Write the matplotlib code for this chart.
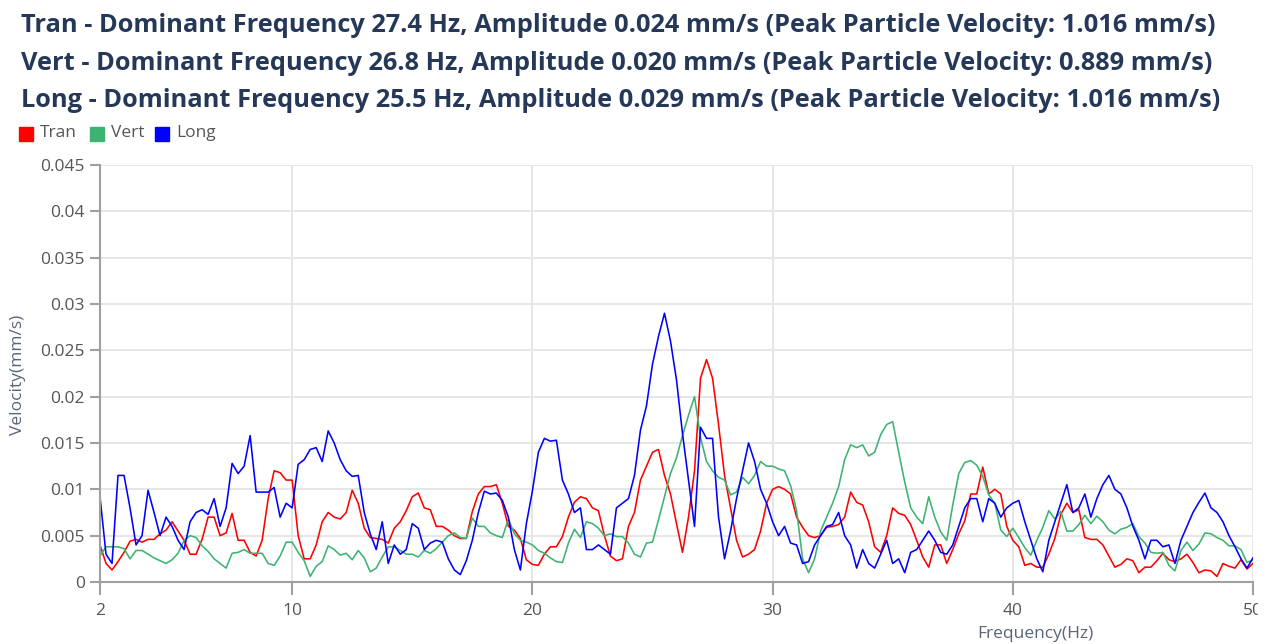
import numpy as np
import matplotlib
matplotlib.use("Agg")
from matplotlib import pyplot as plt
from matplotlib.patches import Rectangle

plt.rcParams['font.family'] = ['Open Sans', 'DejaVu Sans']

W, H = 1275, 644

# spectrum sampled every 0.25 Hz from 2 to 50 Hz, values in um/s (0.001 mm/s)
# one row per Hz: f, f+0.25, f+0.5, f+0.75
tran = [
    4, 2, 1.3, 2.2,
    3.2, 4.4, 4.6, 4.3,
    4.6, 4.6, 5.2, 5.6,
    6.5, 5.5, 4.5, 3,
    3, 4.6, 7, 7,
    5, 5.3, 7.4, 4.5,
    4.5, 3.2, 2.8, 4.5,
    9, 12, 11.8, 11,
    11, 5, 2.5, 2.5,
    4, 6.5, 7.5, 7,
    6.8, 7.5, 9.9, 8.5,
    5.8, 4.8, 4.7, 4.6,
    4.2, 5.8, 6.5, 7.7,
    9.2, 9.6, 8, 7.8,
    6, 6, 5.6, 5,
    4.7, 4.7, 7.6, 9.5,
    10.3, 10.3, 10.5, 8.5,
    6, 5.6, 4.7, 2.4,
    1.9, 1.8, 3, 3.8,
    3.8, 4.9, 7, 8.6,
    9.2, 9, 8, 7.7,
    5, 2.8, 2.3, 2.5,
    6, 7.5, 11, 12.5,
    14, 14.3, 11.5, 9.5,
    6.3, 3.2, 7, 12,
    22, 24, 22, 17,
    11.5, 8, 4.5, 2.7,
    3, 3.5, 5.5, 8.5,
    10, 10.3, 10, 9.5,
    7, 5.9, 5, 4.8,
    5, 5.9, 6, 6.2,
    7, 9.7, 8.6, 8.3,
    6.5, 3.8, 3.2, 5,
    8, 7.4, 7.2, 6.2,
    4.5, 2.7, 1.6, 4,
    4, 2, 3.5, 5.2,
    6.6, 9.5, 9.5, 12.4,
    9.5, 10, 9.5, 6,
    4.5, 3.8, 1.8, 2,
    1.6, 1.6, 3, 4.7,
    7.3, 8.5, 7.5, 7.8,
    4.8, 4.6, 4.6, 4,
    2.8, 1.6, 1.9, 2.5,
    2.3, 1, 1.6, 1.6,
    2.3, 3.1, 2.4, 2.2,
    2.5, 3, 2.1, 1,
    1.3, 1.2, 0.6, 2,
    1.7, 1.5, 2.4, 1.4,
    2,
]

vert = [
    2.8, 3.8, 3.8, 3.8,
    3.6, 2.5, 3.4, 3.4,
    3, 2.6, 2.3, 2,
    2.4, 3.1, 4.5, 5,
    4.8, 3.9, 3.3, 2.5,
    2, 1.5, 3.1, 3.2,
    3.5, 3.1, 3.1, 3.1,
    2, 1.8, 2.8, 4.3,
    4.3, 3.2, 2.3, 0.6,
    1.7, 2.2, 3.9, 3.5,
    2.9, 3.1, 2.4, 3.4,
    2.6, 1.1, 1.5, 2.7,
    3.8, 3.8, 3.4, 3,
    3, 2.7, 3.4, 3.1,
    3.6, 4.3, 5, 5.3,
    4.8, 4.7, 6.9, 6,
    6, 5.3, 5, 4.8,
    6.8, 5.2, 4.5, 4.3,
    4, 3.4, 3.1, 2.6,
    2.2, 2.1, 4.2, 5.7,
    4.8, 6.5, 6.3, 5.8,
    5, 5.2, 4.9, 4.9,
    4.2, 3, 2.7, 4.2,
    4.3, 6.7, 9.2, 11.7,
    13.4, 15.8, 18, 20,
    15.6, 13, 12, 11.3,
    11, 9.4, 9.7, 11.3,
    10.6, 11.5, 13, 12.5,
    12.5, 12.2, 12, 10.4,
    7.7, 2.5, 1, 2.5,
    5.5, 7, 8.5, 10.3,
    13.2, 14.8, 14.5, 14.8,
    13.6, 14, 15.9, 17,
    17.3, 14, 10.8, 8,
    7, 6.3, 9.2, 7,
    5.4, 4.5, 8.3, 11.7,
    12.9, 13.1, 12.6, 11.4,
    9.4, 8.5, 5.6, 4.9,
    5.8, 4.8, 3.7, 2.9,
    4.5, 5.9, 7.7, 6.8,
    7.6, 5.5, 5.5, 6.2,
    7.2, 6.3, 7.1, 6.5,
    5.6, 5.2, 5.7, 5.9,
    6.3, 4.9, 4.2, 3.2,
    3.1, 3.2, 1.8, 1.2,
    3.4, 4.3, 3.4, 4.1,
    5.3, 5.2, 4.8, 4.5,
    3.9, 3.9, 3.5, 2.1,
    2.4,
]

long_ = [
    9.2, 3, 2, 11.5,
    11.5, 8, 4, 5,
    9.9, 7.5, 5, 7,
    6, 4.5, 3.5, 6.5,
    7.5, 7.8, 7.3, 9,
    6, 8, 12.8, 11.7,
    12.5, 15.8, 9.7, 9.7,
    9.7, 10.2, 7, 8.5,
    8, 12.7, 13.2, 14.3,
    14.5, 13, 16.3, 15,
    13.2, 12, 11.4, 11.5,
    7.5, 5.2, 3.5, 6.5,
    2, 4, 3, 3.5,
    6.3, 5.8, 3.5, 4.2,
    4.5, 4.3, 2.5, 1.3,
    0.8, 2.3, 4.5, 7.5,
    9.8, 9.5, 9.6, 8.8,
    7, 3.5, 1.3, 6.3,
    9.8, 14, 15.5, 15.2,
    15.3, 11, 9.5, 7.5,
    8, 3.5, 3.5, 4,
    3.5, 3, 8, 8.5,
    9, 11.5, 16.4, 19,
    23.5, 26.5, 29, 26,
    21.8, 16, 11, 6,
    16.7, 15.5, 15.5, 7,
    2.5, 5.5, 9, 12,
    15, 13, 10, 8.5,
    6.5, 5, 6, 4.2,
    4, 2, 2.2, 4,
    5, 6, 6.2, 7.5,
    5, 4, 1.5, 3.5,
    2, 1.5, 3, 4.5,
    2, 2.5, 1, 3.2,
    3.5, 4.5, 5.5, 4.5,
    3.2, 3, 4, 6,
    8, 9, 9, 6.5,
    9, 8.5, 7, 8,
    8.5, 8.8, 6.5, 4.5,
    2.5, 1.1, 4.5, 6.5,
    8.5, 10.5, 7.5, 8,
    9.5, 7, 9, 10.5,
    11.5, 10, 9.5, 8,
    6, 4.5, 2.5, 4.5,
    4.5, 3.8, 4, 2,
    4.5, 6, 7.5, 8.6,
    9.6, 8, 7.5, 6.5,
    5, 3.8, 2.5, 1.5,
    2.6,
]

series_names = ["Tran", "Vert", "Long"]
series_colors = ["#ff0000", "#3cb371", "#0000ff"]
dominant_freq = [27.4, 26.8, 25.5]
amplitude = [0.024, 0.020, 0.029]
ppv = [1.016, 0.889, 1.016]

x_ticks = [2, 10, 20, 30, 40, 50]
y_ticks = [0, 0.005, 0.01, 0.015, 0.02, 0.025, 0.03, 0.035, 0.04, 0.045]

freq = np.linspace(2, 50, len(tran))


def fx(px):
    return px / W


def fy(py):
    return 1 - py / H


fig = plt.figure(figsize=(W / 100, H / 100), dpi=100)
ax = fig.add_axes([fx(100), fy(582), fx(1253) - fx(100), fy(165) - fy(582)])

for vals, name, col in zip([tran, vert, long_], series_names, series_colors):
    ax.plot(freq, np.array(vals) / 1000, color=col, lw=1.15, label=name)

ax.set_xlim(2, 50)
ax.set_ylim(0, 0.045)
ax.set_xticks(x_ticks)
ax.set_xticklabels([str(t) for t in x_ticks])
ax.set_yticks(y_ticks)
ax.set_yticklabels(['{:g}'.format(t) for t in y_ticks])
ax.grid(True, color='#e6e6e6', lw=1.4)
ax.set_axisbelow(True)
for side in ['top', 'right']:
    ax.spines[side].set_visible(False)
for side in ['left', 'bottom']:
    ax.spines[side].set_color('#a0a0a0')
    ax.spines[side].set_linewidth(1.5)
ax.tick_params(axis='y', colors='#a0a0a0', length=7, width=1.5, pad=4,
               labelsize=12.5, labelcolor='#555555')
ax.tick_params(axis='x', colors='#a0a0a0', length=9, width=1.5, pad=6,
               labelsize=12.5, labelcolor='#555555')

fig.text(fx(18), fy(375), "Velocity(mm/s)", rotation=90, ha='center', va='center',
         fontsize=12.5, color='#5a6478')
fig.text(fx(1035), fy(626), "Frequency(Hz)", ha='center', va='top',
         fontsize=12.5, color='#5a6478')

# summary header, one line per component
for i, name in enumerate(series_names):
    line = (f"{name} - Dominant Frequency {dominant_freq[i]} Hz, "
            f"Amplitude {amplitude[i]:.3f} mm/s "
            f"(Peak Particle Velocity: {ppv[i]:.3f} mm/s)")
    fig.text(fx(21), fy(32 + 37.5 * i), line, ha='left', va='baseline',
             fontsize=18.3, fontweight='bold', color='#253858')

# legend swatches
legend_x = [19, 90, 155]
for lx, name, col in zip(legend_x, series_names, series_colors):
    fig.patches.append(Rectangle((fx(lx), fy(141)), 14 / W, 14 / H,
                                 transform=fig.transFigure, color=col))
    fig.text(fx(lx + 21), fy(133), name, ha='left', va='center',
             fontsize=12.5, color='#555555')

# chart container ends just past the 50 Hz line
fig.patches.append(Rectangle((fx(1258), 0), 1 - fx(1258), 1,
                             transform=fig.transFigure, color='white', zorder=10))

fig.savefig("out.png", dpi=100)
